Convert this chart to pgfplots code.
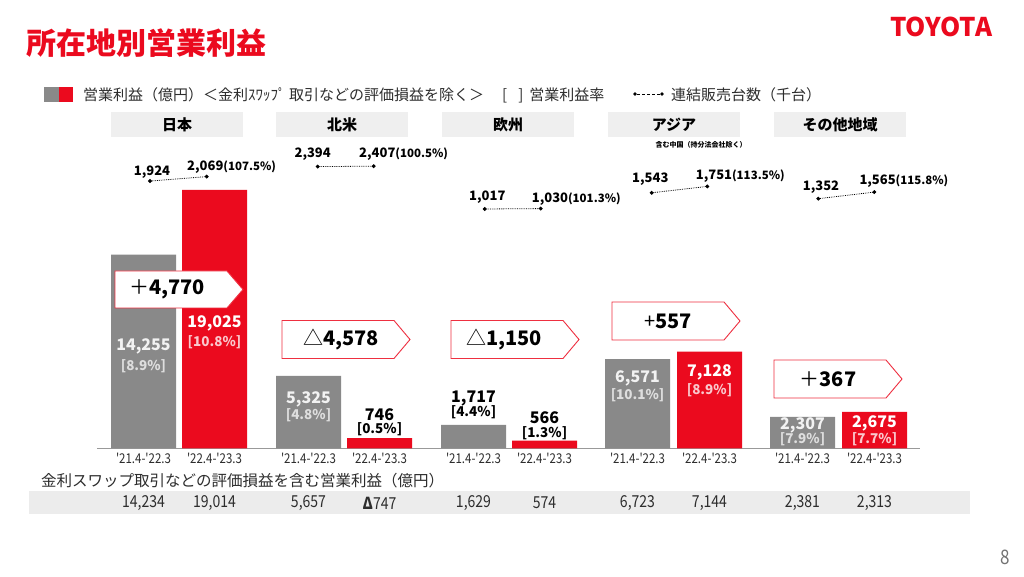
\documentclass[border=0pt]{standalone}
\usepackage{pgfplots}
\pgfplotsset{compat=1.18}
\usepackage{fontspec}
\setmainfont{Noto Sans CJK JP}
\newfontfamily\cond[FakeStretch=0.85]{Noto Sans CJK JP}
\definecolor{tred}{RGB}{235,10,30}
\definecolor{tgray}{RGB}{137,137,137}
\definecolor{hdr}{RGB}{239,239,239}
\definecolor{band}{RGB}{236,236,236}
\definecolor{txt}{RGB}{45,45,45}
\definecolor{lgray}{RGB}{222,222,222}
\definecolor{lpink}{RGB}{250,200,205}
\newcommand{\fs}[1]{\fontsize{#1}{#1}\selectfont}
\begin{document}
\begin{tikzpicture}[x=1pt,y=1pt]
\path[use as bounding box, fill=white] (0,0) rectangle (1024,576);

% ---------- bars ----------
\begin{axis}[
  at={(97pt,127.7pt)}, anchor=south west,
  scale only axis, width=823pt, height=308pt,
  xmin=97, xmax=920, ymin=0, ymax=22680,
  axis x line*=bottom, axis y line=none,
  x axis line style={-, draw=black!40, line width=0.8pt},
  xtick={143.5,214.5,308.5,379.5,473.5,544.5,637.5,709.5,802.5,874.5},
  xticklabels={'21.4-'22.3,'22.4-'23.3,'21.4-'22.3,'22.4-'23.3,'21.4-'22.3,'22.4-'23.3,'21.4-'22.3,'22.4-'23.3,'21.4-'22.3,'22.4-'23.3},
  major tick length=0pt,
  xticklabel style={font=\cond\fs{13.5}, text=txt, anchor=center, yshift=-10pt},
  ybar, bar width=65, bar shift=0pt, clip=false,
]
\addplot[fill=tgray, draw=none] coordinates {(143.5,14255) (308.5,5325) (473.5,1717) (637.5,6571) (802.5,2307)};
\addplot[fill=tred, draw=none] coordinates {(214.5,19025) (379.5,746) (544.5,566) (709.5,7128) (874.5,2675)};
\end{axis}

% ---------- unit sales (thousand) ----------
\begin{axis}[
  at={(97pt,127.7pt)}, anchor=south west,
  scale only axis, width=823pt, height=308pt,
  xmin=97, xmax=920, ymin=-6755, ymax=3248,
  hide axis, clip=false,
  unitline/.style={black, line width=0.8pt, densely dotted, mark=*, mark size=1.5pt, mark options={solid, fill=black}},
]
\addplot[unitline] coordinates {(150,1924) (206.7,2069)};
\addplot[unitline] coordinates {(317.7,2394) (373.7,2407)};
\addplot[unitline] coordinates {(484.7,1017) (540.7,1030)};
\addplot[unitline] coordinates {(651.7,1543) (707.3,1751)};
\addplot[unitline] coordinates {(818.3,1352) (874.3,1565)};
\end{axis}

\begin{scope}[shift={(0,576)}, y=-1pt]
% title & logo
\node[anchor=west, inner sep=0, text=tred] at (26,43) {\fs{30}\bfseries 所在地別営業利益};
\node[inner sep=0, text=tred] at (941,27) {\resizebox{102pt}{!}{\bfseries TOYOTA}};
% legend
\fill[tgray] (44,87) rectangle (59,102);
\fill[tred] (59,87) rectangle (73,102);
\node[anchor=west, inner sep=0, text=txt] at (83,95) {\fs{15}営業利益（億円）＜金利ｽﾜｯﾌﾟ 取引などの評価損益を除く＞};
\node[anchor=west, inner sep=0, text=txt] at (502,95) {\fs{15}[\hspace{11pt}]\hspace{6pt}営業利益率};
\draw[black, line width=0.8pt, dash pattern=on 3pt off 2pt] (637,94) -- (660,94);
\fill (635,94) circle (1.8); \fill (662,94) circle (1.8);
\node[anchor=west, inner sep=0, text=txt] at (671,95) {\fs{15}連結販売台数（千台）};
% region headers
\foreach \xl/\lab in {111/日本,276/北米,442/欧州,608/アジア,774/その他地域}{
  \fill[hdr] (\xl,112) rectangle ({\xl+132},137);
  \node[inner sep=0, text=black] at ({\xl+66},125) {\fs{15}\bfseries \lab};
}
\node[inner sep=0, text=black] at (701,145) {\fs{7}\bfseries 含む中国（持分法会社除く）};
% unit labels
\node[inner sep=0] at (152,172) {\fs{13}\bfseries 1,924};
\node[anchor=west, inner sep=0] at (187,167) {\fs{13}\bfseries 2,069\fs{11.5}(107.5\%)};
\node[inner sep=0] at (312.7,154) {\fs{13}\bfseries 2,394};
\node[anchor=west, inner sep=0] at (359,154) {\fs{13}\bfseries 2,407\fs{11.5}(100.5\%)};
\node[inner sep=0] at (487.3,197.3) {\fs{13}\bfseries 1,017};
\node[anchor=west, inner sep=0] at (531.7,199.5) {\fs{13}\bfseries 1,030\fs{11.5}(101.3\%)};
\node[inner sep=0] at (650.3,179.3) {\fs{13}\bfseries 1,543};
\node[anchor=west, inner sep=0] at (695.7,175.7) {\fs{13}\bfseries 1,751\fs{11.5}(113.5\%)};
\node[inner sep=0] at (821,187.3) {\fs{13}\bfseries 1,352};
\node[anchor=west, inner sep=0] at (859.3,181.3) {\fs{13}\bfseries 1,565\fs{11.5}(115.8\%)};
% bar labels
\newcommand{\blab}[7]{%
  \node[inner sep=0, text=#6] at (#1,#2) {\fs{16}\bfseries #4};
  \node[inner sep=0, text=#7] at (#1,#3) {\fs{13.5}\bfseries [#5\%]};}
\blab{143.5}{346.5}{366}{14,255}{8.9}{white!95!black}{lgray}
\blab{214.5}{323}{342}{19,025}{10.8}{white}{lpink}
\blab{308.5}{399.5}{415.5}{5,325}{4.8}{white!95!black}{lgray}
\blab{379.5}{415}{429}{746}{0.5}{black}{black}
\blab{473.5}{398.5}{412.5}{1,717}{4.4}{black}{black}
\blab{544.5}{418}{433}{566}{1.3}{black}{black}
\blab{637.5}{378.5}{395.5}{6,571}{10.1}{white!95!black}{lgray}
\blab{709.5}{372}{390}{7,128}{8.9}{white}{lpink}
\blab{802.5}{425}{439}{2,307}{7.9}{white!95!black}{lgray}
\blab{874.5}{423}{439}{2,675}{7.7}{white}{lpink}
% change boxes
\newcommand{\cbox}[5]{%
  \filldraw[fill=white, draw=tred!85!white, line width=0.9pt] (#1,#2) -- ({#1+112},#2) -- ({#1+128},{(#2+#3)/2}) -- ({#1+112},#3) -- (#1,#3) -- cycle;
  \node[inner sep=0] at (#4,{(#2+#3)/2}) {#5};}
\cbox{115}{271}{308}{167}{\fs{20}＋\bfseries 4,770}
\cbox{282}{320.5}{358.5}{341}{\fs{20}△\bfseries 4,578}
\cbox{451}{320.5}{358.5}{504}{\fs{20}△\bfseries 1,150}
\cbox{612}{302}{340}{668}{\fs{20}+\bfseries 557}
\cbox{774}{360}{398}{828}{\fs{20}＋\bfseries 367}
% bottom table
\node[anchor=west, inner sep=0, text=txt] at (41,481) {\fs{15.5}金利スワップ取引などの評価損益を含む営業利益（億円）};
\fill[band] (29,491) rectangle (970,514);
\foreach \xx/\vv in {143.5/{14,234}, 214.5/{19,014}, 308.5/{5,657}, 473.5/{1,629}, 544.5/{574}, 637.5/{6,723}, 709.5/{7,144}, 802.5/{2,381}, 874.5/{2,313}}{
  \node[inner sep=0, text=txt] at (\xx,503) {\cond\fs{16.5}\vv};
}
\node[inner sep=0, text=txt] at (379.5,503) {\cond\fs{16.5}{\bfseries Δ}747};
% page number
\node[inner sep=0, text=black!55] at (1005,557) {\cond\fs{20}8};
\end{scope}
\end{tikzpicture}
\end{document}
